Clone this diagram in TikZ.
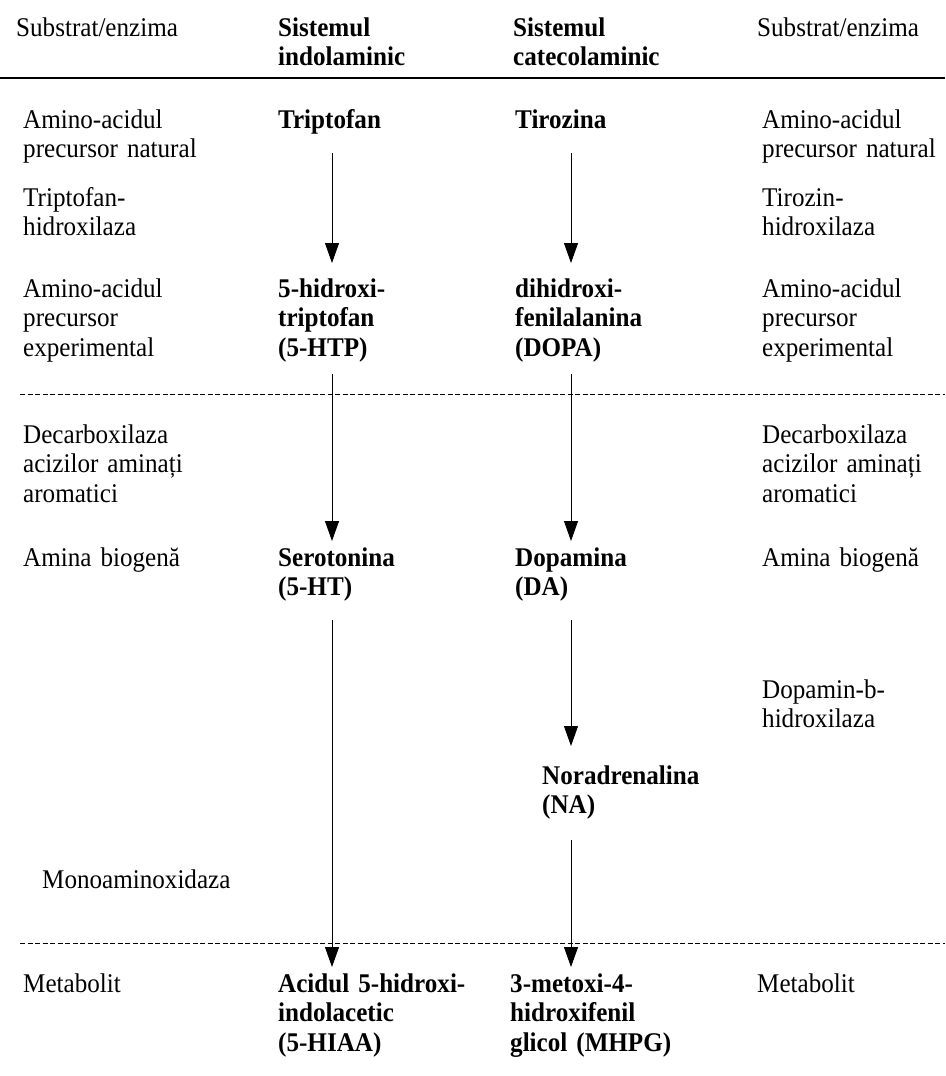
\documentclass[tikz,border=0pt]{standalone}
\usepackage{fontspec}
\setmainfont{Liberation Serif}[FakeStretch=0.93]
\usetikzlibrary{arrows.meta,calc}
\begin{document}
\begin{tikzpicture}[x=1pt,y=-1pt,
  lbl/.style={anchor=base west,inner sep=0pt,align=left,text width=#1,
              font=\fontsize{27}{29.5}\selectfont},
  lbl/.default=240pt,
  key/.style={lbl=#1,font=\fontsize{27}{29.5}\selectfont\bfseries},
  key/.default=240pt,
  flow/.style={-{Triangle[length=20pt,width=14pt]},line width=0.9pt},
  rulesolid/.style={line width=1.4pt},
  ruledash/.style={line width=0.8pt,dash pattern=on 5pt off 2.5pt}]
\useasboundingbox (0,0) rectangle (945,1076);

% column positions of the two pathways
\coordinate (xa) at (332,0);
\coordinate (xb) at (571,0);

% header
\node[lbl]       (hl) at (16,36)  {Substrat/enzima};
\node[key]       (hi) at (278,36) {Sistemul\\indolaminic};
\node[key]       (hc) at (513,36) {Sistemul\\catecolaminic};
\node[lbl=200pt] (hr) at (757,36) {Substrat/enzima};
\draw[rulesolid] (0,78) -- (945,78);

% left column: substrates and enzymes
\node[lbl] (l1) at (23,128) {Amino-acidul\\precursor natural};
\node[lbl] (l2) at (23,206) {Triptofan-\\hidroxilaza};
\node[lbl] (l3) at (23,297) {Amino-acidul\\precursor\\experimental};
\node[lbl] (l4) at (23,443) {Decarboxilaza\\acizilor aminați\\aromatici};
\node[lbl] (l5) at (23,566) {Amina biogenă};
\node[lbl] (l6) at (42,888) {Monoaminoxidaza};
\node[lbl] (l7) at (23,992) {Metabolit};

% right column: substrates and enzymes
\node[lbl=200pt] (r1) at (762,128) {Amino-acidul\\precursor natural};
\node[lbl=200pt] (r2) at (762,206) {Tirozin-\\hidroxilaza};
\node[lbl=200pt] (r3) at (762,297) {Amino-acidul\\precursor\\experimental};
\node[lbl=200pt] (r4) at (762,443) {Decarboxilaza\\acizilor aminați\\aromatici};
\node[lbl=200pt] (r5) at (762,566) {Amina biogenă};
\node[lbl=200pt] (r6) at (762,698) {Dopamin-b-\\hidroxilaza};
\node[lbl=200pt] (r7) at (757,992) {Metabolit};

% indolamine pathway
\node[key] (trp)  at (278,128) {Triptofan};
\node[key] (htp)  at (278,297) {5-hidroxi-\\triptofan\\(5-HTP)};
\node[key] (ser)  at (278,566) {Serotonina\\(5-HT)};
\node[key] (hiaa) at (278,992) {Acidul 5-hidroxi-\\indolacetic\\(5-HIAA)};

% catecholamine pathway
\node[key] (tyr)  at (515,128) {Tirozina};
\node[key] (dopa) at (515,297) {dihidroxi-\\fenilalanina\\(DOPA)};
\node[key] (da)   at (515,566) {Dopamina\\(DA)};
\node[key] (na)   at (542,784) {Noradrenalina\\(NA)};
\node[key] (mhpg) at (510,992) {3-metoxi-4-\\hidroxifenil\\glicol (MHPG)};

% dashed separators
\draw[ruledash] (20,394) -- (945,394);
\draw[ruledash] (20,943) -- (945,943);

% reaction arrows
\draw[flow] ($(trp.base -| xa)+(0,25)$)  -- ($(htp.base -| xa)+(0,-34)$);
\draw[flow] ($(htp.south -| xa)+(0,12)$) -- ($(ser.base -| xa)+(0,-25)$);
\draw[flow] ($(ser.south -| xa)+(0,19)$) -- ($(hiaa.base -| xa)+(0,-25)$);

\draw[flow] ($(tyr.base -| xb)+(0,25)$)   -- ($(dopa.base -| xb)+(0,-34)$);
\draw[flow] ($(dopa.south -| xb)+(0,12)$) -- ($(da.base -| xb)+(0,-25)$);
\draw[flow] ($(da.south -| xb)+(0,19)$)   -- ($(na.base -| xb)+(0,-38)$);
\draw[flow] ($(na.south -| xb)+(0,21)$)   -- ($(mhpg.base -| xb)+(0,-25)$);
\end{tikzpicture}
\end{document}
